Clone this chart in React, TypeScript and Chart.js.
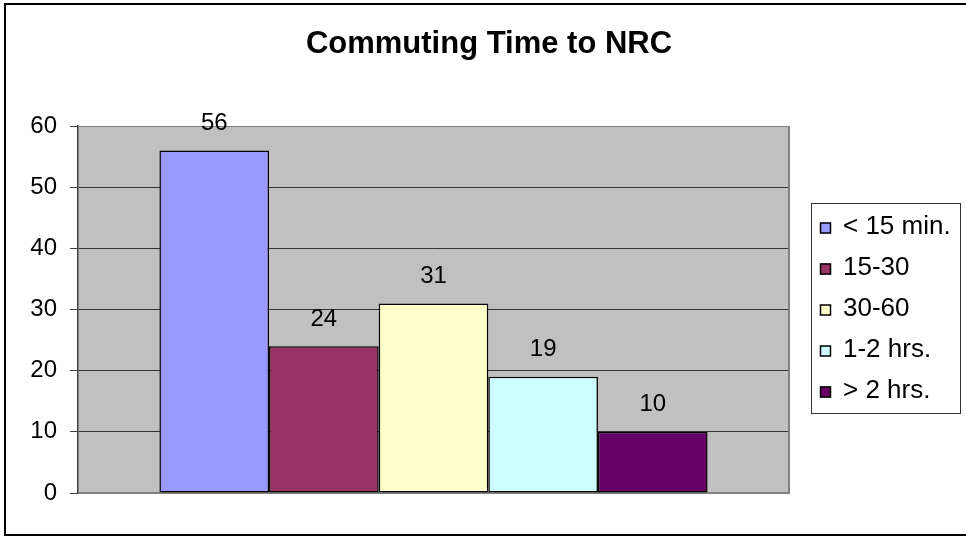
import React, { useEffect, useRef } from "react";
import { Chart, registerables } from "chart.js";

Chart.register(...registerables);

const TITLE = "Commuting Time to NRC";
const CATEGORIES = [""];
const SERIES_LABELS = ["< 15 min.", "15-30", "30-60", "1-2 hrs.", "> 2 hrs."];
const SERIES_VALUES = [56, 24, 31, 19, 10];
const SERIES_COLORS = ["#9999FF", "#993366", "#FFFFCC", "#CCFFFF", "#660066"];
const Y_MIN = 0;
const Y_MAX = 60;
const Y_STEP = 10;

const FONT = "'Liberation Sans', Arial, sans-serif";

const decorPlugin = {
  id: "excelDecor",
  beforeDraw(chart: any) {
    const { ctx, chartArea: a } = chart;
    ctx.save();
    ctx.fillStyle = "#ffffff";
    ctx.fillRect(0, 0, chart.width, chart.height);
    // outer border
    ctx.strokeStyle = "#000000";
    ctx.lineWidth = 2;
    ctx.strokeRect(5, 4, chart.width + 10, 531);
    // plot area background
    ctx.fillStyle = "#C0C0C0";
    ctx.fillRect(a.left, a.top, a.right - a.left, a.bottom - a.top);
    ctx.restore();
  },
  beforeDatasetsDraw(chart: any) {
    const { ctx, chartArea: a } = chart;
    ctx.save();
    ctx.strokeStyle = "#808080";
    ctx.lineWidth = 2;
    ctx.beginPath();
    ctx.moveTo(a.right, a.top);
    ctx.lineTo(a.right, a.bottom);
    ctx.lineTo(a.left, a.bottom);
    ctx.stroke();
    ctx.restore();
  },
  afterDatasetsDraw(chart: any) {
    const { ctx } = chart;
    ctx.save();
    ctx.font = `24px ${FONT}`;
    ctx.fillStyle = "#000";
    ctx.textAlign = "center";
    ctx.textBaseline = "alphabetic";
    chart.data.datasets.forEach((ds: any, i: number) => {
      const meta = chart.getDatasetMeta(i);
      meta.data.forEach((bar: any, j: number) => {
        ctx.fillText(String(ds.data[j]), bar.x, bar.y - 20.5);
      });
    });
    ctx.restore();
  },
  afterDraw(chart: any) {
    const { ctx } = chart;
    ctx.save();
    // title
    ctx.font = `bold 31px ${FONT}`;
    ctx.fillStyle = "#000";
    ctx.textAlign = "center";
    ctx.textBaseline = "alphabetic";
    ctx.fillText(TITLE, 489, 53);
    // legend
    ctx.strokeStyle = "#333";
    ctx.lineWidth = 1;
    ctx.strokeRect(811.5, 203.5, 149, 210);
    ctx.font = `26px ${FONT}`;
    ctx.textAlign = "left";
    chart.data.datasets.forEach((ds: any, i: number) => {
      const cy = 228 + i * 41;
      ctx.fillStyle = ds.backgroundColor;
      ctx.fillRect(820, cy - 5.5, 11, 11);
      ctx.strokeStyle = "#000";
      ctx.lineWidth = 1.5;
      ctx.strokeRect(820.5, cy - 5, 10, 10);
      ctx.fillStyle = "#000";
      ctx.fillText(ds.label, 843, cy + 5.5);
    });
    ctx.restore();
  },
};

export default function App() {
  const ref = useRef<HTMLCanvasElement | null>(null);
  useEffect(() => {
    if (!ref.current) return;
    const chart = new Chart(ref.current, {
      type: "bar",
      data: {
        labels: CATEGORIES,
        datasets: SERIES_LABELS.map((label, i) => ({
          label,
          data: [SERIES_VALUES[i]],
          backgroundColor: SERIES_COLORS[i],
          borderColor: "#000000",
          borderWidth: 1.5,
          borderSkipped: false,
          categoryPercentage: 0.771,
          barPercentage: 1.0,
        })),
      },
      options: {
        animation: false,
        responsive: false,
        devicePixelRatio: 1,
        layout: { padding: { left: 0, right: 177, top: 126, bottom: 43 } },
        plugins: {
          legend: { display: false },
          title: { display: false },
          tooltip: { enabled: false },
        },
        scales: {
          x: { display: false },
          y: {
            min: Y_MIN,
            max: Y_MAX,
            afterFit(scale: any) {
              scale.width = 78;
            },
            ticks: {
              stepSize: Y_STEP,
              color: "#000",
              font: { family: FONT, size: 24 },
              padding: 13,
            },
            grid: {
              color: (c: any) => (c.tick && c.tick.value === Y_MAX ? "#808080" : "#333333"),
              tickColor: "#404040",
              tickLength: 8,
              lineWidth: 1,
            },
            border: { display: true, color: "#404040", width: 1.5 },
          },
        },
      },
      plugins: [decorPlugin],
    } as any);
    return () => chart.destroy();
  }, []);
  return (
    <div style={{ position: "fixed", left: 0, top: 0, width: 966, height: 536 }}>
      <canvas ref={ref} width={966} height={536} style={{ width: 966, height: 536 }} />
    </div>
  );
}
